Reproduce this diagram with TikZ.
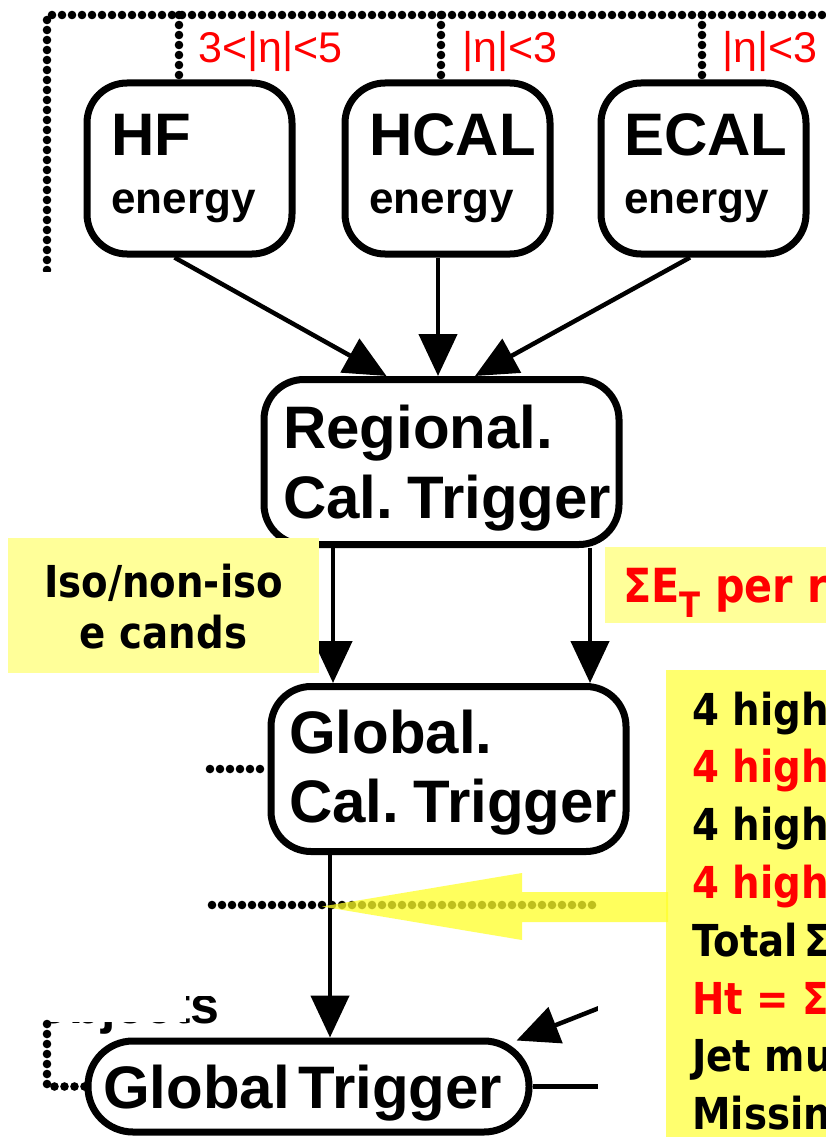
\documentclass[tikz,border=0pt]{standalone}
\usepackage{fontspec}
\setmainfont{Liberation Sans}
\newfontfamily\tah[FakeStretch=0.88]{DejaVu Sans}
\usetikzlibrary{arrows.meta,decorations.markings}
\definecolor{paleyellow}{RGB}{255,255,153}
\definecolor{boxyellow}{RGB}{255,255,110}
\definecolor{arrowyellow}{RGB}{255,255,40}
\definecolor{lblred}{RGB}{255,0,0}
\newcommand\mytightspace{\spaceskip=9pt\relax}
\newcommand\mymidspace{\spaceskip=7pt\relax}
\begin{document}
\begin{tikzpicture}[x=1pt,y=-1pt,
  blk/.style={draw=black, line width=7pt, rounded corners=40pt, inner sep=0pt},
  smallbox/.style={blk, minimum width=205pt, minimum height=171pt},
  bigbox/.style={blk, minimum width=355pt, minimum height=165pt},
  bigtxt/.style={font=\bfseries\fontsize{60}{70}\selectfont, inner sep=0pt, anchor=base west},
  subtxt/.style={font=\bfseries\fontsize{44}{50}\selectfont, inner sep=0pt, anchor=base west},
  etatxt/.style={font=\fontsize{43}{48}\selectfont, text=lblred, inner sep=0pt, anchor=base west},
  slidetxt/.style={font=\tah\bfseries\fontsize{44}{50}\selectfont, inner sep=0pt, anchor=base west},
  dots/.style={decorate, decoration={markings, mark=between positions 0 and 1 step 10pt with {\fill[black] (0,0) circle[radius=4.3pt];}}},
  arr/.style={line width=4.5pt, -{Triangle[length=42pt,width=38pt]}},
  plainline/.style={line width=4.5pt}]
\useasboundingbox (0,0) rectangle (826,1137);
\clip (0,0) rectangle (826,1137);
\fill[white] (0,0) rectangle (826,1137);

% boxes
\node[smallbox] (hf) at (189.5,168.5) {};
\node[smallbox] (hcal) at (447.5,168.5) {};
\node[smallbox] (ecal) at (703.5,168.5) {};
\node[bigbox] (reg) at (441.5,462) {};
\node[bigbox] (glob) at (448.5,769) {};
\node[blk, rounded corners=45pt, minimum width=441pt, minimum height=91pt] (gt) at (308.5,1086.5) {};

% top dotted bus
\coordinate (tl) at (47,15);
\coordinate (tr) at (840,15);
\coordinate (t1) at (179,15);
\coordinate (t2) at (441,15);
\coordinate (t3) at (702,15);
\coordinate (lcut) at (47,300);
\path[dots] (lcut) -- (tl) -- (tr);
\path[dots] (t1) -- (t1 |- hf.north);
\path[dots] (t2) -- (t2 |- hcal.north);
\path[dots] (t3) -- (t3 |- ecal.north);

% partly hidden label and left cover
\node[font=\bfseries\fontsize{52}{60}\selectfont, anchor=base east, inner sep=0pt] (obj) at (220,1023) {objects};
\fill[white] (0,272) rectangle (210,996);
\fill[white] (0,996) rectangle (186,1022);

% eta labels
\node[etatxt] (eta1) at (198,63) {3<|η|<5};
\node[etatxt] (eta2) at (462,63) {|η|<3};
\node[etatxt] (eta3) at (722,63) {|η|<3};

% box texts
\node[bigtxt] (hfA) at (111,155) {HF};
\node[subtxt] (hfB) at (111,213) {energy};
\node[bigtxt] (hcalA) at (369,155) {HCAL};
\node[subtxt] (hcalB) at (369,213) {energy};
\node[bigtxt] (ecalA) at (624,155) {ECAL};
\node[subtxt] (ecalB) at (624,213) {energy};
\node[bigtxt] (regA) at (283,448) {Regional.};
\node[bigtxt] (regB) at (283,518) {\mytightspace Cal. Trigger};
\node[bigtxt] (globA) at (289,753) {Global.};
\node[bigtxt] (globB) at (289,822) {\mytightspace Cal. Trigger};
\node[bigtxt] (gtA) at (103,1108) {\mytightspace Global Trigger};

% arrows
\draw[arr] ([xshift=-15pt]hf.south) -- ([xshift=-55pt]reg.north);
\draw[arr] ([xshift=-9.5pt]hcal.south) -- ([xshift=-3.5pt]reg.north);
\draw[arr] ([xshift=-13.5pt]ecal.south) -- ([xshift=33.5pt]reg.north);
\draw[arr] ([xshift=-108.5pt]reg.south) -- ([xshift=-115.5pt]glob.north);
\draw[arr] ([xshift=148.5pt]reg.south) -- ([xshift=141.5pt]glob.north);
\draw[arr] ([xshift=-118.5pt]glob.south) -- ([xshift=21.5pt]gt.north);
\coordinate (inR) at (650,988);
\draw[arr] (inR) -- ([xshift=-16pt,yshift=-3pt]gt.north east);
\coordinate (outR) at (650,1086.5);
\draw[plainline] (gt.east) -- (outR);

% dotted side links
\coordinate (d1) at (210,769);
\path[dots] (d1) -- (glob.west);
\coordinate (d2a) at (212,905);
\coordinate (d2b) at (598,905);
\path[dots] (d2a) -- (d2b);
\coordinate (d3) at (47,1024);
\path[dots] (d3) |- (gt.west);

% right cover
\fill[white] (598,860) rectangle (666,1137);

% yellow slide boxes
\fill[paleyellow] (8,538) rectangle (319,673);
\node[slidetxt, anchor=base] (iso1) at (163.5,597) {Iso/non-iso};
\node[slidetxt, anchor=base] (iso2) at (163.5,648) {e cands};
\fill[paleyellow] (605,547) rectangle (840,623);
\node[slidetxt, text=lblred, font=\tah\bfseries\fontsize{47}{50}\selectfont] (sumet) at (623,602) {Σ{}E\raisebox{-15pt}{\fontsize{35}{35}\selectfont T} per r};
\fill[boxyellow] (666,670) rectangle (840,1140);
\node[slidetxt] (l1) at (692,725) {4 high};
\node[slidetxt, text=lblred] (l2) at (692,782.8) {4 high};
\node[slidetxt] (l3) at (692,840.6) {4 high};
\node[slidetxt, text=lblred] (l4) at (692,898.4) {4 high};
\node[slidetxt] (l5) at (692,956.2) {\mymidspace Total Σ};
\node[slidetxt, text=lblred] (l6) at (692,1014) {Ht = Σ};
\node[slidetxt] (l7) at (692,1071.8) {Jet mu};
\node[slidetxt] (l8) at (692,1129.6) {Missin};

% yellow block arrow
\fill[arrowyellow, opacity=0.75] (668,892) -- (522,892) -- (522,873) -- (322,906.5) -- (522,940) -- (522,922) -- (668,922) -- cycle;
\end{tikzpicture}
\end{document}
